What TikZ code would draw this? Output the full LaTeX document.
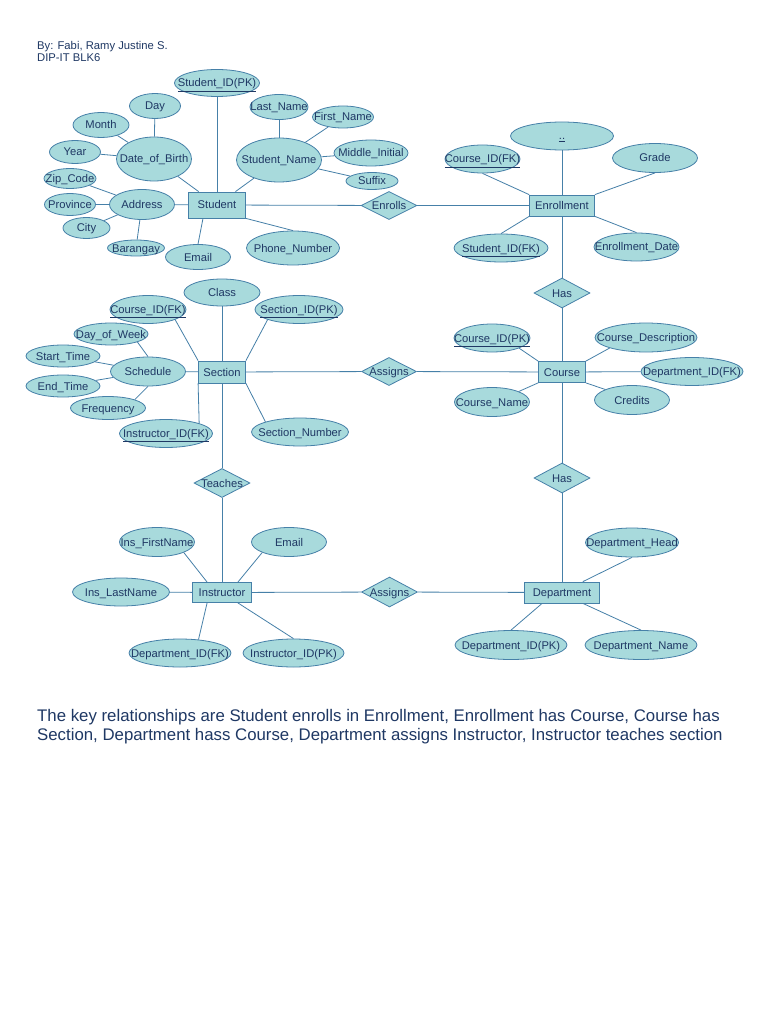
\documentclass[tikz,border=0pt]{standalone}
\usepackage{fontspec}
\setmainfont{Liberation Sans}
\usetikzlibrary{shapes.geometric}
\definecolor{fillc}{RGB}{168,218,220}
\definecolor{edgec}{RGB}{70,128,168}
\definecolor{txtc}{RGB}{31,56,100}
\begin{document}
\begin{tikzpicture}[x=1pt,y=-1pt,
  attr/.style 2 args={ellipse, draw=edgec, fill=fillc, line width=0.8pt, inner sep=0pt, minimum width=#1pt, minimum height=#2pt},
  lbl/.style={text=txtc, font=\fontsize{11.2}{13}\selectfont, inner sep=0pt, text height=9pt, text depth=1pt},
  ent/.style 2 args={rectangle, draw=edgec, fill=fillc, line width=0.8pt, inner sep=0pt, minimum width=#1pt, minimum height=#2pt, text=txtc, font=\fontsize{11.2}{13}\selectfont, text height=9pt, text depth=1pt},
  rel/.style 2 args={diamond, draw=edgec, fill=fillc, line width=0.8pt, inner sep=0pt, minimum width=#1pt, minimum height=#2pt},
  conn/.style={draw=edgec, line width=0.8pt},
  hdr/.style={anchor=base west, inner sep=0pt, text=txtc, font=\fontsize{11.25}{13}\selectfont},
  note/.style={anchor=base west, inner sep=0pt, text=txtc, font=\fontsize{16.8}{19}\selectfont}]
\fill[white] (0,0) rectangle (768,1024);
\useasboundingbox (0,0) rectangle (768,1024);

% header
\node[hdr] (h1) at (37,50) {By: Fabi, Ramy Justine S.};
\node[hdr] (h2) at (37,61.5) {DIP-IT BLK6};

% entities
\node[ent={57}{26}] (stu) at (217,205) {Student};
\node[ent={65}{21}] (enr) at (562,205.5) {Enrollment};
\node[ent={47}{22}] (sec) at (222,372) {Section};
\node[ent={47}{21}] (course) at (562,372) {Course};
\node[ent={59}{20}] (ins) at (222,592.5) {Instructor};
\node[ent={75}{21}] (dept) at (562,592.5) {Department};

% relationships
\node[rel={56}{28}, label={[lbl]center:Enrolls}] (enrolls) at (389,205.5) {};
\node[rel={56}{30}, label={[lbl]center:Has}] (has1) at (562,293) {};
\node[rel={55}{28}, label={[lbl]center:Assigns}] (assigns1) at (389,371.5) {};
\node[rel={56}{29}, label={[lbl]center:Teaches}] (teaches) at (222,483) {};
\node[rel={56}{30}, label={[lbl]center:Has}] (has2) at (562,478) {};
\node[rel={56}{30}, label={[lbl]center:Assigns}] (assigns2) at (389.5,592) {};

% Student attributes
\node[attr={85}{27}, label={[lbl]center:\underline{Student\_ID(PK)}}] (sidpk) at (217,83) {};
\node[attr={51}{25}, label={[lbl]center:Day}] (day) at (155,106) {};
\node[attr={56}{25}, label={[lbl]center:Month}] (month) at (101,125) {};
\node[attr={75}{44}, label={[lbl]center:Date\_of\_Birth}] (dob) at (154,159) {};
\node[attr={51}{23}, label={[lbl]center:Year}] (year) at (75,152) {};
\node[attr={85}{44}, label={[lbl]center:Student\_Name}] (sname) at (279,160) {};
\node[attr={58}{25}, label={[lbl]center:Last\_Name}] (lname) at (279,107) {};
\node[attr={61}{22}, label={[lbl]center:First\_Name}] (fname) at (343,117) {};
\node[attr={74}{26}, label={[lbl]center:Middle\_Initial}] (mi) at (371,153) {};
\node[attr={52}{17}, label={[lbl]center:Suffix}] (suffix) at (372,181) {};
\node[attr={65}{30}, label={[lbl]center:Address}] (addr) at (142,204.5) {};
\node[attr={52}{20}, label={[lbl]center:Zip\_Code}] (zip) at (70,178.5) {};
\node[attr={51}{22}, label={[lbl]center:Province}] (prov) at (70,204.5) {};
\node[attr={47}{21}, label={[lbl]center:City}] (city) at (86.5,228) {};
\node[attr={57}{16}, label={[lbl]center:Barangay}] (bar) at (136,248) {};
\node[attr={65}{25}, label={[lbl]center:Email}] (email) at (198,257) {};
\node[attr={93}{34}, label={[lbl]center:Phone\_Number}] (phone) at (293,248) {};

% Enrollment attributes
\node[attr={103}{28}, label={[lbl]center:\underline{..}}] (dots) at (562,136) {};
\node[attr={75}{28}, label={[lbl]center:\underline{Course\_ID(FK)}}] (cidfk) at (482.5,159) {};
\node[attr={85}{29}, label={[lbl]center:Grade}] (grade) at (655,158) {};
\node[attr={94}{28}, label={[lbl]center:\underline{Student\_ID(FK)}}] (sidfk) at (501,248) {};
\node[attr={85}{28}, label={[lbl]center:Enrollment\_Date}] (edate) at (636.5,247) {};

% Section attributes
\node[attr={76}{27}, label={[lbl]center:Class}] (class) at (222,292.5) {};
\node[attr={76}{28}, label={[lbl]center:\underline{Course\_ID(FK)}}] (scid) at (148,309.5) {};
\node[attr={88}{28}, label={[lbl]center:\underline{Section\_ID(PK)}}] (secid) at (299,309.5) {};
\node[attr={74}{22}, label={[lbl]center:Day\_of\_Week}] (dow) at (111,334) {};
\node[attr={74}{22}, label={[lbl]center:Start\_Time}] (start) at (63,356) {};
\node[attr={75}{29}, label={[lbl]center:Schedule}] (sched) at (148,371.5) {};
\node[attr={74}{22}, label={[lbl]center:End\_Time}] (endt) at (63,386) {};
\node[attr={75}{23}, label={[lbl]center:Frequency}] (freq) at (108,408) {};
\node[attr={93}{28}, label={[lbl]center:\underline{Instructor\_ID(FK)}}] (iidfk) at (166,433.5) {};
\node[attr={97}{28}, label={[lbl]center:Section\_Number}] (secnum) at (300,432) {};

% Course attributes
\node[attr={76}{28}, label={[lbl]center:\underline{Course\_ID(PK)}}] (cidpk) at (492,338) {};
\node[attr={102}{29}, label={[lbl]center:Course\_Description}] (cdesc) at (646,337.5) {};
\node[attr={102}{28}, label={[lbl]center:Department\_ID(FK)}] (didfk) at (692,371.5) {};
\node[attr={75}{29}, label={[lbl]center:Course\_Name}] (cname) at (492,402) {};
\node[attr={75}{29}, label={[lbl]center:Credits}] (credits) at (632,400) {};

% Instructor attributes
\node[attr={75}{29}, label={[lbl]center:Ins\_FirstName}] (ifn) at (157,542) {};
\node[attr={75}{29}, label={[lbl]center:Email}] (iemail) at (289,542) {};
\node[attr={97}{28}, label={[lbl]center:Ins\_LastName}] (iln) at (121,592) {};
\node[attr={102}{28}, label={[lbl]center:Department\_ID(FK)}] (idfk) at (180,653) {};
\node[attr={101}{28}, label={[lbl]center:Instructor\_ID(PK)}] (iidpk) at (293.5,653) {};

% Department attributes
\node[attr={93}{29}, label={[lbl]center:Department\_Head}] (dhead) at (632,542.5) {};
\node[attr={112}{29}, label={[lbl]center:Department\_ID(PK)}] (didpk) at (511,645) {};
\node[attr={112}{29}, label={[lbl]center:Department\_Name}] (dname) at (641,645) {};

% connectors: Student
\draw[conn] (sidpk) -- (stu);
\draw[conn] (day) -- (dob);
\draw[conn] (month) -- (dob);
\draw[conn] (year) -- (dob);
\draw[conn] (dob) -- (stu);
\draw[conn] (lname) -- (sname);
\draw[conn] (fname) -- (sname);
\draw[conn] (mi) -- (sname);
\draw[conn] (suffix) -- (sname);
\draw[conn] (sname) -- (stu);
\draw[conn] (zip) -- (addr);
\draw[conn] (prov) -- (addr);
\draw[conn] (city) -- (addr);
\draw[conn] (bar) -- (addr);
\draw[conn] (addr) -- (stu);
\draw[conn] (email.north) -- ([xshift=-14pt]stu.south);
\draw[conn] (stu.south east) -- (phone.north);
\draw[conn] (stu) -- (enrolls);
\draw[conn] (enrolls) -- (enr);

% connectors: Enrollment
\draw[conn] (dots) -- (enr);
\draw[conn] (cidfk.south) -- (enr.north west);
\draw[conn] (grade.south) -- (enr.north east);
\draw[conn] (sidfk.north) -- (enr.south west);
\draw[conn] (edate.north) -- (enr.south east);
\draw[conn] (enr) -- (has1);
\draw[conn] (has1) -- (course);

% connectors: Section
\draw[conn] (class) -- (sec);
\draw[conn] (scid.south east) -- (sec.north west);
\draw[conn] (secid.south west) -- (sec.north east);
\draw[conn] (sched) -- (sec);
\draw[conn] (dow.south east) -- (sched.north);
\draw[conn] (start) -- (sched);
\draw[conn] (endt) -- (sched);
\draw[conn] (freq.north east) -- (sched.south);
\draw[conn] (sec.south west) -- (iidfk.north east);
\draw[conn] (secnum.north west) -- (sec.south east);
\draw[conn] (sec) -- (teaches);
\draw[conn] (teaches) -- (ins);
\draw[conn] (sec) -- (assigns1);
\draw[conn] (assigns1) -- (course);

% connectors: Course
\draw[conn] (cidpk.south east) -- (course.north west);
\draw[conn] (cdesc.south west) -- (course.north east);
\draw[conn] (course) -- (didfk);
\draw[conn] (cname.north east) -- (course.south west);
\draw[conn] (credits.north west) -- (course.south east);
\draw[conn] (course) -- (has2);
\draw[conn] (has2) -- (dept);

% connectors: Instructor
\draw[conn] (ifn.south east) -- ([xshift=15pt]ins.north west);
\draw[conn] (iemail.south west) -- ([xshift=-14pt]ins.north east);
\draw[conn] (iln) -- (ins);
\draw[conn] (idfk.36) -- ([xshift=15pt]ins.south west);
\draw[conn] (iidpk.north) -- ([xshift=-14pt]ins.south east);
\draw[conn] (ins) -- (assigns2);
\draw[conn] (assigns2) -- (dept);

% connectors: Department
\draw[conn] (dhead.south) -- ([xshift=-17pt]dept.north east);
\draw[conn] (didpk.north) -- ([xshift=18pt]dept.south west);
\draw[conn] (dname.north) -- ([xshift=-17pt]dept.south east);

% note
\node[note] (n1) at (37,721.5) {The key relationships are Student enrolls in Enrollment, Enrollment has Course, Course has};
\node[note] (n2) at (37,740) {Section, Department hass Course, Department assigns Instructor, Instructor teaches section};
\end{tikzpicture}
\end{document}
